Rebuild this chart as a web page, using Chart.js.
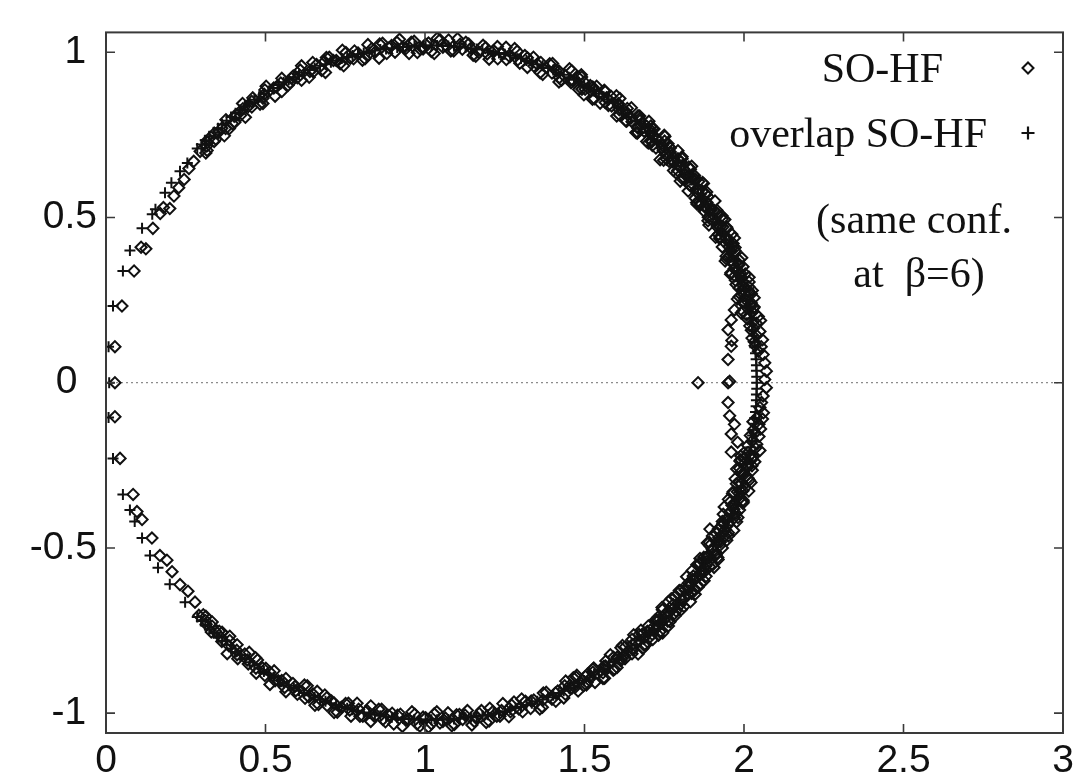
<!DOCTYPE html>
<html>
<head>
<meta charset="utf-8">
<title>SO-HF spectrum</title>
<script src="https://cdn.jsdelivr.net/npm/chart.js@4.4.1/dist/chart.umd.min.js"></script>
<style>
  html, body { margin: 0; padding: 0; background: #fff; }
</style>
</head>
<body>
<canvas id="spectrum" width="1085" height="776"></canvas>
<script>
// SO-HF eigenvalues, upper half of the ring (going counter-clockwise from the right)
const soHfUpper = [
  [2.022,0.231],[1.996,0.243],[2.023,0.269],[1.997,0.280],[2.016,0.305],[1.973,0.310],[1.988,0.333],[1.969,0.345],[1.985,0.371],[1.945,0.374],[1.959,0.399],[1.966,0.421],
  [1.952,0.434],[1.924,0.441],[1.945,0.471],[1.917,0.477],[1.931,0.505],[1.888,0.501],[1.898,0.527],[1.877,0.535],[1.887,0.563],[1.847,0.558],[1.856,0.585],[1.858,0.609],
  [1.841,0.619],[1.813,0.619],[1.827,0.653],[1.798,0.653],[1.806,0.684],[1.765,0.670],[1.769,0.698],[1.747,0.702],[1.751,0.731],[1.713,0.718],[1.716,0.746],[1.713,0.770],
  [1.695,0.776],[1.667,0.771],[1.673,0.807],[1.646,0.801],[1.647,0.832],[1.609,0.811],[1.607,0.839],[1.585,0.837],[1.583,0.867],[1.549,0.846],[1.545,0.874],[1.538,0.897],
  [1.518,0.899],[1.492,0.888],[1.491,0.925],[1.465,0.913],[1.460,0.944],[1.428,0.915],[1.420,0.943],[1.398,0.937],[1.391,0.965],[1.361,0.938],[1.352,0.964],[1.340,0.985],
  [1.321,0.983],[1.297,0.967],[1.289,1.003],[1.266,0.986],[1.254,1.015],[1.228,0.980],[1.215,1.005],[1.195,0.995],[1.182,1.021],[1.159,0.988],[1.144,1.012],[1.128,1.030],
  [1.110,1.024],[1.090,1.004],[1.074,1.037],[1.056,1.015],[1.038,1.042],[1.020,1.002],
  [1.002,1.024],[0.985,1.009],[0.966,1.033],[0.950,0.996],[0.931,1.016],[0.912,1.030],[0.895,1.020],[0.880,0.996],[0.858,1.025],[0.844,1.001],[0.821,1.023],[0.812,0.980],
  [0.790,0.998],[0.776,0.980],[0.752,0.999],[0.745,0.959],[0.722,0.975],[0.700,0.985],[0.685,0.972],[0.676,0.945],[0.648,0.969],[0.639,0.942],[0.613,0.959],[0.613,0.915],
  [0.587,0.928],[0.577,0.908],[0.551,0.921],[0.551,0.881],[0.526,0.892],[0.502,0.897],
  [0.496,0.873],[0.492,0.845],[0.460,0.862],[0.457,0.834],[0.428,0.845],[0.437,0.803],[0.410,0.810],[0.404,0.788],[0.376,0.796],[0.375,0.769],
  [0.371,0.747],[0.340,0.755],[0.339,0.730],[0.318,0.727],[0.317,0.703],[0.295,0.700]
];

// second sweep of the upper half, between the points above
const soHfUpper2 = [
  [1.996,0.216],[2.023,0.241],[2.002,0.254],[2.026,0.279],[1.985,0.286],[1.995,0.307],[2.004,0.329],[1.959,0.333],[1.983,0.360],[1.960,0.370],
  [1.944,0.383],[1.966,0.412],[1.943,0.421],[1.962,0.449],[1.920,0.449],[1.926,0.472],[1.932,0.495],[1.887,0.490],[1.906,0.522],[1.881,0.528],
  [1.863,0.537],[1.881,0.570],[1.856,0.574],[1.870,0.606],[1.829,0.598],[1.831,0.622],[1.832,0.646],[1.788,0.634],[1.802,0.668],[1.776,0.669],
  [1.757,0.676],[1.769,0.710],[1.743,0.711],[1.752,0.745],[1.712,0.730],[1.710,0.754],[1.708,0.777],[1.667,0.757],[1.674,0.793],[1.649,0.790],
  [1.629,0.793],[1.634,0.830],[1.609,0.826],[1.611,0.860],[1.575,0.839],[1.569,0.862],[1.562,0.885],[1.525,0.858],[1.526,0.895],[1.502,0.888],
  [1.482,0.887],[1.480,0.924],[1.457,0.915],[1.453,0.950],[1.421,0.923],[1.411,0.944],[1.400,0.966],[1.369,0.933],[1.363,0.969],[1.341,0.958],
  [1.321,0.954],[1.313,0.990],[1.291,0.977],[1.281,1.011],[1.255,0.978],[1.241,0.998],[1.227,1.017],[1.201,0.979],[1.190,1.014],[1.169,0.999],
  [1.151,0.991],[1.137,1.025],[1.117,1.009],[1.102,1.041],[1.081,1.004],[1.065,1.021],[1.047,1.038],[1.029,0.996],[1.011,1.028],[0.994,1.010],
  [0.976,0.999],[0.957,1.030],[0.940,1.011],[0.920,1.039],[0.906,1.000],[0.887,1.013],[0.867,1.027],[0.856,0.982],[0.833,1.011],[0.819,0.990],
  [0.804,0.976],[0.779,1.004],[0.766,0.982],[0.741,1.006],[0.734,0.965],[0.713,0.975],[0.691,0.984],[0.688,0.939],[0.660,0.963],[0.650,0.940],
  [0.637,0.924],[0.609,0.946],[0.600,0.923],[0.581,0.921],[0.571,0.900],[0.548,0.907],[0.534,0.895],[0.530,0.867],[0.498,0.886],[0.492,0.861],
  [0.483,0.843],[0.457,0.851],[0.446,0.836],[0.429,0.829],[0.422,0.809],[0.402,0.806],[0.396,0.784],[0.387,0.769],[0.363,0.770],[0.351,0.756],
  [0.344,0.737],[0.321,0.737],[0.316,0.716],[0.313,0.695]
];

// third and fourth sweeps, right-hand part of the upper half where the band is densest
const soHfUpper3 = [
  [1.991,0.211],[2.021,0.236],[2.032,0.257],[1.992,0.265],[2.015,0.290],[1.975,0.297],[1.991,0.320],[1.958,0.328],[1.984,0.356],[1.993,0.378],
  [1.953,0.382],[1.972,0.409],[1.932,0.411],[1.944,0.436],[1.911,0.440],[1.934,0.471],[1.940,0.494],[1.899,0.493],[1.915,0.522],[1.875,0.519],
  [1.884,0.545],[1.851,0.545],[1.870,0.579],[1.873,0.603],[1.833,0.596],[1.845,0.627],[1.805,0.619],[1.811,0.647],[1.779,0.642],[1.793,0.678],
  [1.793,0.702],[1.754,0.691],[1.762,0.723],[1.724,0.710],[1.727,0.738],[1.695,0.730],[1.705,0.767],[1.702,0.791],[1.665,0.775],[1.668,0.808],
  [1.632,0.791],[1.631,0.819],[1.601,0.807],[1.606,0.845],[1.600,0.868],[1.565,0.848],[1.565,0.881],[1.531,0.859],[1.527,0.887],[1.498,0.871],
  [1.499,0.910],[1.490,0.932],[1.458,0.908]
];

const soHfUpper4 = [
  [2.032,0.229],[2.003,0.241],[1.979,0.253],[2.013,0.280],[1.997,0.294],[2.016,0.319],[1.971,0.323],[1.997,0.351],[1.966,0.359],[1.941,0.368],
  [1.972,0.399],[1.954,0.411],[1.970,0.438],[1.924,0.436],[1.947,0.467],[1.916,0.471],[1.890,0.477],[1.916,0.512],[1.897,0.522],[1.909,0.550],
  [1.864,0.543],[1.883,0.577],[1.852,0.577],[1.825,0.580],[1.847,0.617],[1.826,0.625],[1.836,0.655],[1.792,0.642],[1.806,0.678],[1.775,0.674],
  [1.748,0.673],[1.765,0.714],[1.744,0.718],[1.750,0.749],[1.708,0.731],[1.718,0.768],[1.687,0.761],[1.661,0.757],[1.673,0.799]
];

// SO-HF eigenvalues, lower half of the ring
const soHfLower = [
  [2.002,-0.227],[2.025,-0.251],[1.986,-0.259],[2.006,-0.283],[1.972,-0.291],[2.002,-0.319],[1.979,-0.330],[1.997,-0.356],[1.957,-0.360],[1.968,-0.383],[1.981,-0.408],[1.945,-0.412],
  [1.934,-0.426],[1.951,-0.454],[1.911,-0.454],[1.926,-0.482],[1.891,-0.483],[1.914,-0.516],[1.889,-0.522],[1.902,-0.551],[1.862,-0.547],[1.867,-0.572],[1.875,-0.599],[1.839,-0.595],
  [1.825,-0.607],[1.836,-0.638],[1.797,-0.629],[1.806,-0.660],[1.772,-0.654],[1.787,-0.691],[1.762,-0.692],[1.768,-0.723],[1.730,-0.710],[1.730,-0.735],[1.732,-0.764],[1.697,-0.752],
  [1.681,-0.761],[1.686,-0.794],[1.649,-0.777],[1.652,-0.809],[1.619,-0.795],[1.627,-0.835],[1.602,-0.831],[1.602,-0.862],[1.567,-0.842],[1.562,-0.867],[1.558,-0.895],[1.526,-0.876],
  [1.509,-0.882],[1.506,-0.915],[1.474,-0.891],[1.470,-0.922],[1.441,-0.903],[1.440,-0.943],[1.416,-0.933],[1.410,-0.964],[1.380,-0.937],[1.370,-0.960],[1.360,-0.987],[1.333,-0.963],
  [1.315,-0.964],[1.306,-0.996],[1.279,-0.966],[1.268,-0.996],[1.244,-0.971],[1.235,-1.009],[1.213,-0.995],[1.201,-1.024],[1.177,-0.992],[1.162,-1.012],[1.147,-1.036],[1.126,-1.006],
  [1.108,-1.004],[1.092,-1.034],[1.072,-0.999],[1.056,-1.025],[1.037,-0.996],[1.020,-1.032],
  [1.002,-1.014],[0.984,-1.039],[0.968,-1.003],[0.949,-1.020],[0.929,-1.040],[0.914,-1.006],[0.897,-1.000],[0.876,-1.026],[0.864,-0.988],[0.842,-1.010],[0.830,-0.978],[0.805,-1.009],
  [0.792,-0.988],[0.768,-1.009],[0.760,-0.970],[0.738,-0.982],[0.715,-0.998],[0.707,-0.963],[0.692,-0.953],[0.666,-0.974],[0.662,-0.934],[0.636,-0.951],[0.631,-0.917],[0.600,-0.943],
  [0.592,-0.919],[0.564,-0.935],[0.564,-0.895],[0.540,-0.902],[0.514,-0.913],[0.514,-0.876],
  [0.501,-0.864],[0.471,-0.879],[0.475,-0.839],[0.446,-0.851],[0.449,-0.816],[0.413,-0.835],[0.410,-0.810],[0.380,-0.820],[0.388,-0.780],[0.363,-0.783],
  [0.364,-0.755],[0.343,-0.752],[0.333,-0.737],[0.314,-0.731],[0.313,-0.707],[0.291,-0.704]
];

// second sweep of the lower half
const soHfLower2 = [
  [2.029,-0.224],[1.990,-0.233],[2.011,-0.256],[1.991,-0.269],[2.017,-0.295],[1.989,-0.306],[1.997,-0.327],[1.964,-0.335],[1.996,-0.365],[1.962,-0.371],
  [1.975,-0.396],[1.935,-0.398],[1.952,-0.425],[1.930,-0.434],[1.951,-0.464],[1.921,-0.469],[1.925,-0.492],[1.892,-0.493],[1.918,-0.529],[1.883,-0.529],
  [1.892,-0.556],[1.852,-0.551],[1.864,-0.580],[1.841,-0.585],[1.856,-0.619],[1.826,-0.619],[1.826,-0.641],[1.793,-0.637],[1.812,-0.677],[1.778,-0.671],
  [1.782,-0.699],[1.744,-0.687],[1.750,-0.718],[1.727,-0.719],[1.736,-0.754],[1.706,-0.749],[1.703,-0.771],[1.671,-0.762],[1.683,-0.804],[1.650,-0.792],
  [1.649,-0.820],[1.614,-0.802],[1.615,-0.834],[1.591,-0.831],[1.594,-0.867],[1.566,-0.857],[1.558,-0.878],[1.529,-0.863],[1.533,-0.907],[1.503,-0.889],
  [1.497,-0.917],[1.465,-0.893],[1.461,-0.924],[1.438,-0.917],[1.435,-0.954],[1.409,-0.939],[1.398,-0.958],[1.371,-0.939],[1.368,-0.982],[1.341,-0.960],
  [1.331,-0.986],[1.303,-0.957],[1.294,-0.987],[1.272,-0.976],[1.263,-1.011],[1.240,-0.992],[1.225,-1.009],[1.203,-0.985],[1.192,-1.028],[1.170,-1.001],
  [1.155,-1.025],[1.133,-0.992],[1.118,-1.019],[1.099,-1.005],[1.084,-1.038],[1.064,-1.015],[1.047,-1.030],[1.029,-1.002],[1.011,-1.042],[0.994,-1.012],
  [0.975,-1.033],[0.959,-0.996],[0.940,-1.021],[0.923,-1.003],[0.902,-1.033],[0.887,-1.007],[0.868,-1.019],[0.855,-0.988],[0.830,-1.025],[0.818,-0.992],
  [0.796,-1.009],[0.787,-0.970],[0.764,-0.991],[0.751,-0.971],[0.725,-0.997],[0.715,-0.969],[0.693,-0.977],[0.686,-0.945],[0.655,-0.976],[0.649,-0.942],
  [0.624,-0.955],[0.622,-0.915],[0.595,-0.932],[0.586,-0.910],[0.560,-0.922],[0.551,-0.901],[0.530,-0.902],[0.527,-0.872],[0.498,-0.886],[0.491,-0.863],
  [0.470,-0.864],[0.469,-0.832],[0.443,-0.839],[0.435,-0.821],[0.411,-0.823],[0.411,-0.793],[0.386,-0.797],[0.388,-0.767],[0.361,-0.771],[0.355,-0.752],
  [0.330,-0.754],[0.333,-0.724],[0.312,-0.720],[0.305,-0.702]
];

// third and fourth sweeps, right-hand part of the lower half
const soHfLower3 = [
  [2.025,-0.227],[1.987,-0.237],[2.026,-0.265],[1.996,-0.275],[2.022,-0.302],[1.976,-0.306],[1.990,-0.329],[1.989,-0.348],[1.951,-0.353],[1.986,-0.385],
  [1.955,-0.392],[1.977,-0.421],[1.932,-0.420],[1.942,-0.445],[1.940,-0.464],[1.901,-0.464],[1.932,-0.500],[1.900,-0.503],[1.919,-0.535],[1.874,-0.528],
  [1.881,-0.554],[1.876,-0.572],[1.838,-0.568],[1.864,-0.608],[1.832,-0.607],[1.847,-0.640],[1.803,-0.628],[1.807,-0.655],[1.800,-0.672],[1.763,-0.663],
  [1.784,-0.706],[1.752,-0.701],[1.763,-0.736],[1.721,-0.719],[1.722,-0.746],[1.713,-0.762],[1.677,-0.749],[1.692,-0.794],[1.662,-0.785],[1.668,-0.821],
  [1.628,-0.799],[1.626,-0.826],[1.614,-0.841],[1.581,-0.823],[1.590,-0.870],[1.561,-0.858],[1.563,-0.894],[1.526,-0.867],[1.520,-0.893],[1.508,-0.907],
  [1.476,-0.885],[1.480,-0.933],[1.453,-0.917]
];

const soHfLower4 = [
  [1.999,-0.213],[2.034,-0.239],[2.009,-0.251],[1.977,-0.261],[2.013,-0.289],[1.986,-0.300],[2.015,-0.328],[1.966,-0.330],[1.998,-0.361],[1.971,-0.370],
  [1.938,-0.376],[1.970,-0.408],[1.943,-0.416],[1.968,-0.447],[1.919,-0.443],[1.946,-0.477],[1.918,-0.483],[1.885,-0.485],[1.913,-0.521],[1.885,-0.525],
  [1.906,-0.559],[1.858,-0.549],[1.881,-0.586],[1.853,-0.589],[1.820,-0.587],[1.843,-0.626],[1.815,-0.627],[1.832,-0.663],[1.785,-0.647],[1.803,-0.687],
  [1.775,-0.686],[1.743,-0.680],[1.761,-0.722],[1.732,-0.719],[1.745,-0.757],[1.700,-0.736],[1.714,-0.777],[1.686,-0.773],[1.654,-0.763]
];

// SO-HF points around the real axis near 2
const soHfCap = [
  [2.054,0.109],[2.032,0.124],[2.040,0.143],[2.023,0.159],[2.039,0.180],[2.011,0.193],[2.027,0.214],
  [2.045,0.095],[2.025,0.135],[2.050,0.155],[2.018,0.172],[2.045,0.200],[2.030,0.226],
  [2.035,0.112],[2.058,0.130],[2.030,0.165],[2.052,0.188],[2.008,0.205],
  [2.060,0.085],[2.065,0.060],[2.070,0.035],[2.065,0.010],[2.070,-0.015],[2.060,-0.040],[2.055,-0.060],
  [2.061,-0.091],[2.039,-0.107],[2.047,-0.126],[2.030,-0.142],[2.047,-0.163],[2.025,-0.177],[2.036,-0.198],[2.013,-0.211],
  [2.050,-0.075],[2.028,-0.118],[2.052,-0.140],[2.020,-0.160],[2.040,-0.186],[2.025,-0.232],
  [2.058,-0.110],[2.035,-0.152],[2.012,-0.190],[2.050,-0.205]
];

// SO-HF points lying inside the ring
const soHfInner = [
  [1.856,0.000],[1.950,0.000],[1.955,0.004],[1.950,0.070],[1.960,0.110],[1.962,0.128],[1.950,0.160],[1.960,0.190],[1.970,0.220],[1.985,0.260],
  [1.950,-0.060],[1.955,-0.100],[1.970,-0.126],[1.960,-0.155],[1.980,-0.180],[1.960,-0.210],[1.990,-0.222],
  [1.420,0.910],[1.665,0.755],[1.700,0.725],[1.737,0.675],[1.800,0.610],[1.853,0.540],
  [1.893,-0.443],[1.862,-0.532]
];

// sparse SO-HF points near the origin
const soHfLeft = [
  [0.028,0.000],[0.028,0.109],[0.050,0.232],[0.088,0.338],[0.110,0.410],[0.125,0.405],[0.147,0.467],[0.170,0.512],[0.180,0.530],[0.200,0.527],
  [0.213,0.565],[0.228,0.590],[0.245,0.615],[0.260,0.648],[0.275,0.670],
  [0.028,-0.103],[0.044,-0.229],[0.085,-0.338],[0.097,-0.390],[0.113,-0.414],[0.144,-0.470],[0.169,-0.523],[0.191,-0.537],[0.207,-0.572],
  [0.232,-0.611],[0.257,-0.631],[0.279,-0.664]
];

// overlap SO-HF eigenvalues (on the Ginsparg-Wilson circle)
const overlapUpper = [
  [2.040,0.000],[2.040,0.018],[2.039,0.036],[2.039,0.053],[2.038,0.071],[2.036,0.089],[2.034,0.107],[2.032,0.124],[2.030,0.142],[2.027,0.160],
  [2.025,0.177],[2.021,0.195],[2.018,0.212],[2.014,0.230],[2.010,0.247],[2.005,0.264],[2.001,0.281],[1.995,0.298],[1.990,0.315],[1.984,0.332],
  [1.979,0.349],[1.972,0.366],[1.966,0.382],[1.959,0.399],[1.952,0.415],[1.944,0.431],[1.937,0.447],[1.929,0.463],[1.921,0.479],[1.912,0.495],
  [1.903,0.510],[1.894,0.525],[1.885,0.541],[1.875,0.556],[1.866,0.570],[1.856,0.585],[1.845,0.600],[1.835,0.614],[1.824,0.628],[1.813,0.642],
  [1.801,0.656],[1.790,0.669],[1.778,0.683],[1.766,0.696],[1.754,0.709],[1.741,0.721],[1.729,0.734],[1.716,0.746],[1.702,0.758],[1.689,0.770],
  [1.676,0.781],[1.662,0.793],[1.648,0.804],[1.634,0.815],[1.620,0.825],[1.605,0.836],[1.590,0.846],[1.576,0.856],[1.560,0.865],[1.545,0.874],
  [1.530,0.883],[1.515,0.892],[1.499,0.901],[1.483,0.909],[1.467,0.917],[1.451,0.924],[1.435,0.932],[1.419,0.939],[1.402,0.946],[1.386,0.952],
  [1.369,0.959],[1.352,0.964],[1.335,0.970],[1.318,0.975],[1.301,0.981],[1.284,0.985],[1.267,0.990],[1.250,0.994],[1.232,0.998],[1.215,1.001],
  [1.197,1.005],[1.180,1.008],[1.162,1.010],[1.144,1.012],[1.127,1.014],[1.109,1.016],[1.091,1.018],[1.073,1.019],[1.056,1.019],[1.038,1.020],
  [1.020,1.020],[1.002,1.020],[0.984,1.019],[0.967,1.019],[0.949,1.018],[0.931,1.016],[0.913,1.014],[0.896,1.012],[0.878,1.010],[0.860,1.008],
  [0.843,1.005],[0.825,1.001],[0.808,0.998],[0.790,0.994],[0.773,0.990],[0.756,0.985],[0.739,0.981],[0.722,0.975],[0.705,0.970],[0.688,0.964],
  [0.671,0.959],[0.654,0.952],[0.638,0.946],[0.621,0.939],[0.605,0.932],[0.589,0.924],[0.573,0.917],[0.557,0.909],[0.541,0.901],[0.525,0.892],
  [0.510,0.883],[0.495,0.874],[0.480,0.865],[0.465,0.856],[0.450,0.846],[0.435,0.836],[0.420,0.825],[0.406,0.815],[0.392,0.804],[0.378,0.793],
  [0.364,0.781],[0.351,0.770],[0.338,0.758],[0.324,0.746],[0.311,0.734],[0.299,0.721],[0.286,0.709]
];

const overlapLower = [
  [2.040,-0.018],[2.039,-0.036],[2.039,-0.053],[2.038,-0.071],[2.036,-0.089],[2.034,-0.107],[2.032,-0.124],[2.030,-0.142],[2.027,-0.160],
  [2.025,-0.177],[2.021,-0.195],[2.018,-0.212],[2.014,-0.230],[2.010,-0.247],[2.005,-0.264],[2.001,-0.281],[1.995,-0.298],[1.990,-0.315],[1.984,-0.332],
  [1.979,-0.349],[1.972,-0.366],[1.966,-0.382],[1.959,-0.399],[1.952,-0.415],[1.944,-0.431],[1.937,-0.447],[1.929,-0.463],[1.921,-0.479],[1.912,-0.495],
  [1.903,-0.510],[1.894,-0.525],[1.885,-0.541],[1.875,-0.556],[1.866,-0.570],[1.856,-0.585],[1.845,-0.600],[1.835,-0.614],[1.824,-0.628],[1.813,-0.642],
  [1.801,-0.656],[1.790,-0.669],[1.778,-0.683],[1.766,-0.696],[1.754,-0.709],[1.741,-0.721],[1.729,-0.734],[1.716,-0.746],[1.702,-0.758],[1.689,-0.770],
  [1.676,-0.781],[1.662,-0.793],[1.648,-0.804],[1.634,-0.815],[1.620,-0.825],[1.605,-0.836],[1.590,-0.846],[1.576,-0.856],[1.560,-0.865],[1.545,-0.874],
  [1.530,-0.883],[1.515,-0.892],[1.499,-0.901],[1.483,-0.909],[1.467,-0.917],[1.451,-0.924],[1.435,-0.932],[1.419,-0.939],[1.402,-0.946],[1.386,-0.952],
  [1.369,-0.959],[1.352,-0.964],[1.335,-0.970],[1.318,-0.975],[1.301,-0.981],[1.284,-0.985],[1.267,-0.990],[1.250,-0.994],[1.232,-0.998],[1.215,-1.001],
  [1.197,-1.005],[1.180,-1.008],[1.162,-1.010],[1.144,-1.012],[1.127,-1.014],[1.109,-1.016],[1.091,-1.018],[1.073,-1.019],[1.056,-1.019],[1.038,-1.020],
  [1.020,-1.020],[1.002,-1.020],[0.984,-1.019],[0.967,-1.019],[0.949,-1.018],[0.931,-1.016],[0.913,-1.014],[0.896,-1.012],[0.878,-1.010],[0.860,-1.008],
  [0.843,-1.005],[0.825,-1.001],[0.808,-0.998],[0.790,-0.994],[0.773,-0.990],[0.756,-0.985],[0.739,-0.981],[0.722,-0.975],[0.705,-0.970],[0.688,-0.964],
  [0.671,-0.959],[0.654,-0.952],[0.638,-0.946],[0.621,-0.939],[0.605,-0.932],[0.589,-0.924],[0.573,-0.917],[0.557,-0.909],[0.541,-0.901],[0.525,-0.892],
  [0.510,-0.883],[0.495,-0.874],[0.480,-0.865],[0.465,-0.856],[0.450,-0.846],[0.435,-0.836],[0.420,-0.825],[0.406,-0.815],[0.392,-0.804],[0.378,-0.793],
  [0.364,-0.781],[0.351,-0.770],[0.338,-0.758],[0.324,-0.746],[0.311,-0.734],[0.299,-0.721],[0.286,-0.709]
];

const overlapLeft = [
  [0.010,0.000],[0.008,0.109],[0.022,0.232],[0.053,0.338],[0.075,0.400],[0.113,0.467],[0.145,0.510],[0.155,0.525],[0.185,0.575],[0.205,0.605],
  [0.232,0.640],[0.255,0.665],
  [0.008,-0.105],[0.022,-0.229],[0.053,-0.338],[0.075,-0.385],[0.090,-0.420],[0.113,-0.470],[0.138,-0.523],[0.163,-0.560],[0.200,-0.610],[0.248,-0.664]
];

const xTicks = [0, 0.5, 1, 1.5, 2, 2.5, 3];
const xTickLabels = ['0', '0.5', '1', '1.5', '2', '2.5', '3'];
const yTicks = [-1, -0.5, 0, 0.5, 1];
// integer labels sit a little left of the decimal ones
const yTickLabels = ['-1 ', '-0.5', '0\u2002', '0.5', '1 '];

const seriesNames = ['SO-HF', 'overlap SO-HF'];
const noteLines = ['(same conf.', 'at  \u03b2=6)'];

const INK = '#111';

function toPoints() {
  const out = [];
  for (const list of arguments) {
    for (const p of list) out.push({ x: p[0], y: p[1] });
  }
  return out;
}

// dotted zero line, box frame with inward ticks, key in the upper right
const gnuplotFrame = {
  id: 'gnuplotFrame',
  beforeDatasetsDraw(chart) {
    const { ctx, chartArea: a } = chart;
    const y0 = chart.scales.y.getPixelForValue(0);
    ctx.save();
    ctx.strokeStyle = '#8c8c8c';
    ctx.lineWidth = 1.3;
    ctx.setLineDash([2, 3]);
    ctx.beginPath();
    ctx.moveTo(a.left, y0);
    ctx.lineTo(a.right, y0);
    ctx.stroke();
    ctx.restore();
  },
  afterDatasetsDraw(chart) {
    const { ctx, chartArea: a } = chart;
    const xs = chart.scales.x, ys = chart.scales.y;
    const tick = 9;
    ctx.save();
    ctx.strokeStyle = '#3a3a3a';
    ctx.lineWidth = 2;
    ctx.strokeRect(a.left, a.top, a.right - a.left, a.bottom - a.top);
    ctx.lineWidth = 1.6;
    ctx.beginPath();
    xTicks.forEach(v => {
      const px = xs.getPixelForValue(v);
      ctx.moveTo(px, a.bottom); ctx.lineTo(px, a.bottom - tick);
      ctx.moveTo(px, a.top); ctx.lineTo(px, a.top + tick);
    });
    yTicks.forEach(v => {
      const py = ys.getPixelForValue(v);
      ctx.moveTo(a.left, py); ctx.lineTo(a.left + tick, py);
      ctx.moveTo(a.right, py); ctx.lineTo(a.right - tick, py);
    });
    ctx.stroke();

    // key
    ctx.fillStyle = INK;
    ctx.font = '42px "Liberation Serif", "Times New Roman", serif';
    ctx.textBaseline = 'alphabetic';
    ctx.textAlign = 'right';
    ctx.fillText(seriesNames[0], 943, 82);
    ctx.fillText(seriesNames[1], 987, 147);
    ctx.textAlign = 'center';
    ctx.fillText(noteLines[0], 914, 233);
    ctx.fillText(noteLines[1], 919, 287);

    ctx.strokeStyle = INK;
    ctx.lineWidth = 2;
    const mx = 1028;
    ctx.beginPath();
    ctx.moveTo(mx - 5.5, 68); ctx.lineTo(mx, 62.5); ctx.lineTo(mx + 5.5, 68); ctx.lineTo(mx, 73.5); ctx.closePath();
    ctx.stroke();
    ctx.lineWidth = 2.2;
    ctx.beginPath();
    ctx.moveTo(mx - 6.5, 133); ctx.lineTo(mx + 6.5, 133);
    ctx.moveTo(mx, 126.5); ctx.lineTo(mx, 139.5);
    ctx.stroke();
    ctx.restore();
  }
};

const tickFont = { family: '"Liberation Sans", Arial, sans-serif', size: 39 };

new Chart(document.getElementById('spectrum'), {
  type: 'scatter',
  data: {
    datasets: [
      {
        label: seriesNames[0],
        data: toPoints(soHfUpper, soHfUpper2, soHfUpper3, soHfUpper4, soHfLower, soHfLower2, soHfLower3, soHfLower4, soHfCap, soHfInner, soHfLeft),
        pointStyle: 'rectRot',
        pointRadius: 5.6,
        borderColor: INK,
        backgroundColor: 'rgba(0,0,0,0)',
        pointBorderWidth: 2,
        order: 2
      },
      {
        label: seriesNames[1],
        data: toPoints(overlapUpper, overlapLower, overlapLeft),
        pointStyle: 'cross',
        pointRadius: 5.5,
        borderColor: INK,
        pointBorderWidth: 2,
        order: 1
      }
    ]
  },
  options: {
    responsive: false,
    animation: false,
    events: [],
    layout: { padding: { left: 0, right: 22, top: 11, bottom: 0 } },
    plugins: {
      legend: { display: false },
      tooltip: { enabled: false }
    },
    scales: {
      x: {
        type: 'linear',
        min: 0,
        max: 3,
        afterBuildTicks: s => { s.ticks = xTicks.map(v => ({ value: v })); },
        afterFit: s => { s.height = 43; },
        grid: { display: false, drawTicks: false },
        border: { display: false },
        ticks: { color: INK, font: tickFont, padding: 5, maxRotation: 0, callback: (v, i) => xTickLabels[i] }
      },
      y: {
        type: 'linear',
        min: -1.06,
        max: 1.06,
        afterBuildTicks: s => { s.ticks = yTicks.map(v => ({ value: v })); },
        afterFit: s => { s.width = 106; },
        grid: { display: false, drawTicks: false },
        border: { display: false },
        ticks: { color: INK, font: tickFont, padding: 9, callback: (v, i) => yTickLabels[i] }
      }
    }
  },
  plugins: [gnuplotFrame]
});
</script>
</body>
</html>
